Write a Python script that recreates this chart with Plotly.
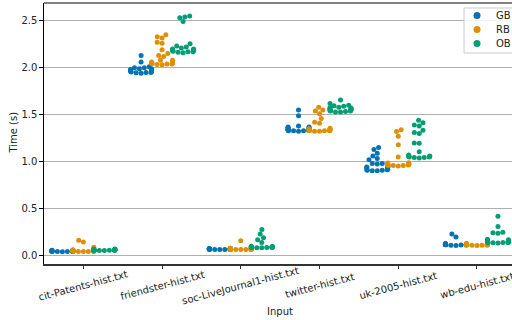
import numpy as np
import plotly.graph_objects as go

categories = ["cit-Patents-hist.txt", "friendster-hist.txt", "soc-LiveJournal1-hist.txt",
              "twitter-hist.txt", "uk-2005-hist.txt", "wb-edu-hist.txt"]
hues = ["GB", "RB", "OB"]
colors = ["#0173b2", "#de8f05", "#029e73"]

gb_times = [
    [0.042, 0.044, 0.045, 0.046, 0.047, 0.048, 0.048, 0.049, 0.05, 0.05, 0.051, 0.051, 0.052, 0.052, 0.053, 0.054, 0.055, 0.056, 0.058, 0.06],
    [2.13, 2.06, 2.01, 2.0, 2.0, 1.99, 1.99, 1.98, 1.98, 1.975, 1.97, 1.97, 1.965, 1.96, 1.96, 1.955, 1.95, 1.95, 1.945, 1.94],
    [0.065, 0.066, 0.067, 0.068, 0.068, 0.069, 0.07, 0.07, 0.07, 0.071, 0.071, 0.072, 0.072, 0.073, 0.074, 0.075, 0.076, 0.077, 0.078, 0.08],
    [1.55, 1.49, 1.38, 1.37, 1.37, 1.36, 1.36, 1.355, 1.35, 1.35, 1.345, 1.34, 1.34, 1.34, 1.335, 1.335, 1.33, 1.33, 1.33, 1.325],
    [1.15, 1.13, 1.09, 1.06, 1.035, 1.02, 0.98, 0.98, 0.975, 0.95, 0.945, 0.94, 0.935, 0.92, 0.915, 0.915, 0.91, 0.91, 0.905, 0.905],
    [0.23, 0.2, 0.13, 0.128, 0.126, 0.125, 0.124, 0.123, 0.122, 0.121, 0.12, 0.12, 0.119, 0.118, 0.117, 0.116, 0.115, 0.114, 0.112, 0.11],
]
rb_times = [
    [0.165, 0.145, 0.09, 0.062, 0.044, 0.045, 0.046, 0.047, 0.048, 0.048, 0.049, 0.05, 0.05, 0.051, 0.052, 0.053, 0.054, 0.055, 0.056, 0.058],
    [2.35, 2.33, 2.315, 2.27, 2.26, 2.19, 2.15, 2.13, 2.12, 2.08, 2.08, 2.06, 2.055, 2.05, 2.05, 2.045, 2.04, 2.04, 2.035, 2.03],
    [0.16, 0.08, 0.078, 0.076, 0.075, 0.074, 0.073, 0.072, 0.072, 0.071, 0.071, 0.07, 0.07, 0.069, 0.068, 0.068, 0.067, 0.066, 0.066, 0.065],
    [1.58, 1.55, 1.54, 1.51, 1.46, 1.42, 1.41, 1.355, 1.35, 1.345, 1.34, 1.34, 1.34, 1.335, 1.335, 1.33, 1.33, 1.33, 1.325, 1.325],
    [1.34, 1.32, 1.27, 1.18, 1.05, 0.99, 0.985, 0.98, 0.98, 0.975, 0.975, 0.97, 0.97, 0.97, 0.965, 0.965, 0.96, 0.96, 0.96, 0.955],
    [0.13, 0.128, 0.126, 0.125, 0.124, 0.123, 0.122, 0.121, 0.12, 0.12, 0.119, 0.118, 0.117, 0.116, 0.115, 0.114, 0.113, 0.112, 0.111, 0.11],
]
ob_times = [
    [0.055, 0.056, 0.057, 0.058, 0.058, 0.059, 0.06, 0.06, 0.06, 0.061, 0.061, 0.062, 0.062, 0.063, 0.064, 0.065, 0.066, 0.068, 0.07, 0.072],
    [2.55, 2.54, 2.53, 2.49, 2.255, 2.23, 2.22, 2.21, 2.2, 2.2, 2.19, 2.19, 2.185, 2.18, 2.18, 2.175, 2.17, 2.17, 2.165, 2.16],
    [0.28, 0.23, 0.19, 0.17, 0.14, 0.1, 0.098, 0.096, 0.095, 0.094, 0.093, 0.092, 0.091, 0.09, 0.09, 0.089, 0.088, 0.087, 0.086, 0.085],
    [1.655, 1.62, 1.6, 1.595, 1.59, 1.58, 1.575, 1.57, 1.565, 1.56, 1.56, 1.555, 1.55, 1.55, 1.545, 1.54, 1.54, 1.535, 1.53, 1.53],
    [1.44, 1.415, 1.39, 1.38, 1.335, 1.31, 1.3, 1.2, 1.195, 1.105, 1.07, 1.06, 1.06, 1.055, 1.055, 1.05, 1.05, 1.045, 1.045, 1.04],
    [0.42, 0.31, 0.25, 0.245, 0.24, 0.175, 0.17, 0.16, 0.155, 0.15, 0.15, 0.148, 0.146, 0.145, 0.144, 0.142, 0.14, 0.14, 0.138, 0.135],
]
series = [gb_times, rb_times, ob_times]

# ---- layout geometry ----
W, H = 512, 320
ml, mr, mt, mb = 43.5, 0, 3, 56
pw, ph = W - ml - mr, H - mt - mb
xr = [-0.5, 5.445]
yr = [-0.088, 2.688]
px_per_x = pw / (xr[1] - xr[0])
px_per_y = ph / (yr[1] - yr[0])


def pxx(x):  # page pixel -> paper x
    return (x - ml) / pw


def pxy(y):  # page pixel -> paper y
    return 1 - (y - mt) / ph


DIAM = 5.0
band = 0.8 / len(hues)


def swarm_offsets(vals, d, half_w):
    ys = np.asarray(vals, dtype=float) * px_per_y
    order = np.argsort(ys, kind="stable")
    xs = np.zeros(len(ys))
    placed = []
    for i in order:
        y = ys[i]
        nb = [(px, py) for px, py in placed if abs(py - y) < d]
        cands = [0.0]
        for px, py in nb:
            dx = np.sqrt(max(d * d - (py - y) ** 2, 0.0))
            cands += [px - dx, px + dx]
        cands.sort(key=abs)
        for c in cands:
            if all((c - px) ** 2 + (y - py) ** 2 >= d * d - 1e-6 for px, py in nb):
                xs[i] = c
                break
        placed.append((xs[i], y))
    xs = np.clip(xs, -half_w, half_w)
    return xs / px_per_x


fig = go.Figure()
for h, (name, col, data) in enumerate(zip(hues, colors, series)):
    xx, yy = [], []
    for ci, vals in enumerate(data):
        center = ci + (h - 1) * band
        offs = swarm_offsets(vals, DIAM, band / 2 * px_per_x)
        xx += list(center + offs)
        yy += list(vals)
    fig.add_trace(go.Scatter(x=xx, y=yy, mode="markers", name=name, showlegend=False,
                             marker=dict(color=col, size=DIAM, line=dict(width=0))))

font = dict(family="DejaVu Sans", size=10, color="#222222")
fig.update_layout(
    width=W, height=H,
    margin=dict(l=ml, r=mr, t=mt, b=mb, pad=0, autoexpand=False),
    plot_bgcolor="white", paper_bgcolor="white",
    font=font,
    showlegend=False,
    xaxis=dict(range=xr, tickmode="array", tickvals=list(range(len(categories))),
               showticklabels=False, automargin=False, showgrid=False, zeroline=False,
               showline=True, linecolor="#333333", linewidth=1.5,
               ticks="outside", ticklen=3.5, tickcolor="#333333", tickwidth=1),
    yaxis=dict(range=yr, tickmode="array", tickvals=[0, 0.5, 1.0, 1.5, 2.0, 2.5],
               ticktext=["0.0", "0.5", "1.0", "1.5", "2.0", "2.5"], automargin=False,
               showgrid=True, gridcolor="#b0b0b0", gridwidth=1, zeroline=False,
               showline=True, linecolor="#000000", linewidth=1.2,
               ticks="outside", ticklen=3.5, tickcolor="#000000", tickwidth=1),
)
# rotated category labels centred under their ticks
for ci, cat in enumerate(categories):
    fig.add_annotation(x=ci, xref="x", y=pxy(285), yref="paper",
                       text=cat, textangle=-15, showarrow=False,
                       xanchor="center", yanchor="middle", font=font)
fig.add_annotation(x=pxx(280), xref="paper", y=pxy(311), yref="paper",
                   text="Input", showarrow=False, xanchor="center", yanchor="middle", font=font)
fig.add_annotation(x=pxx(12), xref="paper", y=pxy(133), yref="paper",
                   text="Time (s)", textangle=-90, showarrow=False,
                   xanchor="center", yanchor="middle", font=font)
fig.add_shape(type="line", xref="paper", yref="paper", x0=0, x1=1, y0=1, y1=1,
              line=dict(color="#808080", width=2))

# legend box (matplotlib style)
fig.add_shape(type="rect", xref="paper", yref="paper", x0=pxx(464), x1=pxx(520),
              y0=pxy(53), y1=pxy(8), fillcolor="rgba(255,255,255,0.85)",
              line=dict(color="#cccccc", width=1), layer="above")
for h, (name, col) in enumerate(zip(hues, colors)):
    yc = 15.5 + 14 * h
    fig.add_shape(type="circle", xref="paper", yref="paper", xsizemode="pixel",
                  ysizemode="pixel", xanchor=pxx(477), yanchor=pxy(yc),
                  x0=-3.5, x1=3.5, y0=-3.5, y1=3.5, fillcolor=col,
                  line=dict(width=0), layer="above")
    fig.add_annotation(x=pxx(494), xref="paper", y=pxy(yc), yref="paper", text=name,
                       showarrow=False, xanchor="left", yanchor="middle", font=font)

fig.write_html("out.html", config={"displayModeBar": False},
               post_script="document.body.style.margin='0';document.body.style.padding='0';")
